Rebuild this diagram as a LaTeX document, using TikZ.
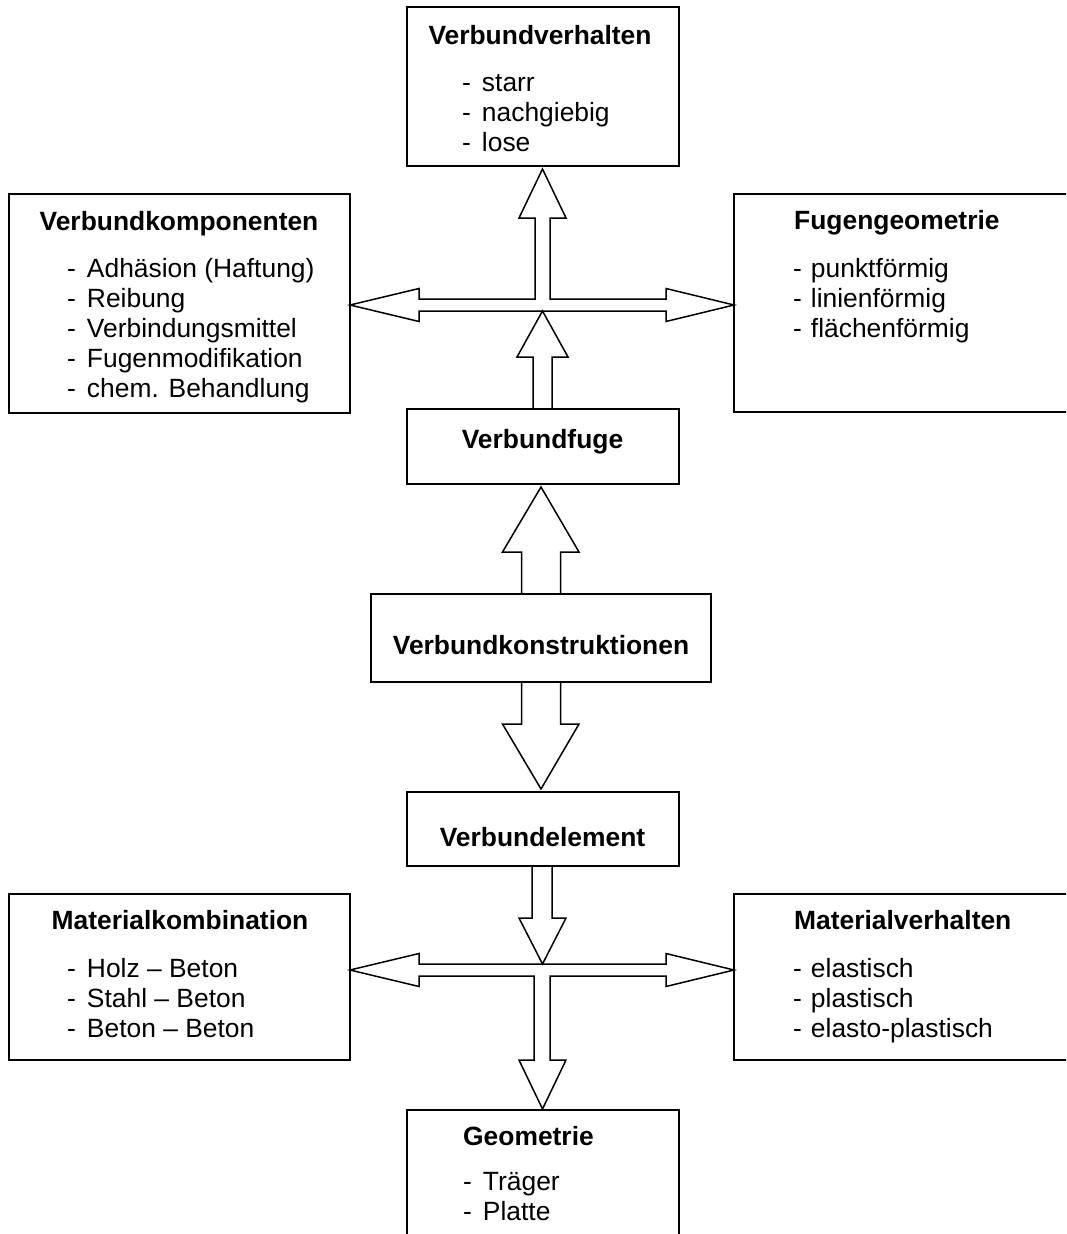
\documentclass[tikz,border=0pt]{standalone}
\usepackage{fontspec}
\setmainfont{Liberation Sans}
\usetikzlibrary{calc}
\begin{document}
\begin{tikzpicture}[x=1pt,y=-1pt,
  box/.style={draw, line width=2pt, inner sep=0pt, outer sep=0pt},
  blk/.style={draw, line width=1.5pt, line join=miter},
  ttl/.style={font=\fontsize{26.4}{30}\selectfont\bfseries, inner sep=0pt, anchor=base},
  ttlw/.style={ttl, anchor=base west},
  itm/.style={font=\fontsize{26.4}{30}\selectfont, inner sep=0pt, anchor=base west}]
\useasboundingbox (0,0) rectangle (1066,1234);
\clip (0,0) rectangle (1066,1234);

% boxes
\node[box, minimum width=272pt, minimum height=159pt] (vv) at (543,86.5) {};
\node[box, minimum width=341pt, minimum height=219pt] (vk) at (179.5,303.5) {};
\node[box, minimum width=356pt, minimum height=218pt] (fg) at (912,303) {};
\node[box, minimum width=272pt, minimum height=75pt] (fuge) at (543,446.5) {};
\node[box, minimum width=340pt, minimum height=88pt] (kon) at (541,638) {};
\node[box, minimum width=272pt, minimum height=74pt] (elem) at (543,829) {};
\node[box, minimum width=341pt, minimum height=166pt] (mk) at (179.5,977) {};
\node[box, minimum width=356pt, minimum height=166pt] (mv) at (912,977) {};
\node[box, minimum width=272pt, minimum height=150pt] (geo) at (543,1185) {};

\coordinate (X1) at (542.5,305);
\coordinate (X2) at (542.5,970);

% upper cross (up arrow + double horizontal arrow)
\draw[blk] (vk.east |- X1) -- ++(69,-16.5) -- ++(0,10.5) -- (535,299) -- (535,218) -- (519,218)
  -- ($(X1 |- vv.south)+(0,3)$) -- (566,218) -- (550,218) -- (550,299) -- (666,299) -- (666,288.5)
  -- (fg.west |- X1) -- (666,321.5) -- (666,311) -- (419,311) -- (419,321.5) -- cycle;
% up arrow from Verbundfuge
\draw[blk] ($(fuge.north)+(-10,0)$) -- ++(0,-52) -- ++(-16,0) -- ($(X1)+(0,6)$)
  -- ($(fuge.north)+(25,-52)$) -- ++(-16,0) -- ++(0,52);
% double arrow through Verbundkonstruktionen
\draw[blk] ($(kon.north)+(-19.5,0)$) -- ++(0,-42) -- ++(-19,0) -- ($(fuge.south)+(-2,3)$)
  -- ($(kon.north)+(38,-42)$) -- ++(-18.5,0) -- ++(0,42);
\draw[blk] ($(kon.south)+(-19.5,0)$) -- ++(0,42) -- ++(-19,0) -- ($(elem.north)+(-2,-3)$)
  -- ($(kon.south)+(38,42)$) -- ++(-18.5,0) -- ++(0,-42);
% down arrow from Verbundelement
\draw[blk] ($(elem.south)+(-11,0)$) -- ++(0,52) -- ++(-13,0) -- ($(X2)+(0,-6)$)
  -- ($(elem.south)+(23,52)$) -- ++(-14,0) -- ++(0,-52);
% lower cross (double horizontal arrow + down arrow)
\draw[blk] (mk.east |- X2) -- ++(69,-16.5) -- ++(0,10.5) -- (666,964) -- (666,953.5)
  -- (mv.west |- X2) -- (666,986.5) -- (666,976) -- (550,976) -- (550,1060) -- (566,1060)
  -- ($(geo.north)+(-0.5,-1)$) -- (519,1060) -- (534,1060) -- (534,976) -- (419,976) -- (419,986.5) -- cycle;

% texts
\node[ttl] (t1) at (540,44) {Verbundverhalten};
\node[itm] (t1a) at (462,91) {-\hspace{11pt}starr};
\node[itm] (t1b) at (462,121) {-\hspace{11pt}nachgiebig};
\node[itm] (t1c) at (462,151) {-\hspace{11pt}lose};

\node[ttl] (t2) at (179,230.5) {Verbundkomponenten};
\node[itm] (t2a) at (67,277) {-\hspace{11pt}Adhäsion (Haftung)};
\node[itm] (t2b) at (67,307) {-\hspace{11pt}Reibung};
\node[itm] (t2c) at (67,337) {-\hspace{11pt}Verbindungsmittel};
\node[itm] (t2d) at (67,367) {-\hspace{11pt}Fugenmodifikation};
\node[itm] (t2e) at (67,397) {-\hspace{11pt}chem. Behandlung};

\node[ttlw] (t3) at (794,229) {Fugengeometrie};
\node[itm] (t3a) at (793,277) {-\hspace{9pt}punktförmig};
\node[itm] (t3b) at (793,307) {-\hspace{9pt}linienförmig};
\node[itm] (t3c) at (793,337) {-\hspace{9pt}flächenförmig};

\node[ttl] (t4) at (542.5,448) {Verbundfuge};
\node[ttl] (t5) at (541,654) {Verbundkonstruktionen};
\node[ttl] (t6) at (542.5,846) {Verbundelement};

\node[ttl] (t7) at (180,929) {Materialkombination};
\node[itm] (t7a) at (67,977) {-\hspace{11pt}Holz – Beton};
\node[itm] (t7b) at (67,1007) {-\hspace{11pt}Stahl – Beton};
\node[itm] (t7c) at (67,1037) {-\hspace{11pt}Beton – Beton};

\node[ttlw] (t8) at (794,929) {Materialverhalten};
\node[itm] (t8a) at (793,977) {-\hspace{9pt}elastisch};
\node[itm] (t8b) at (793,1007) {-\hspace{9pt}plastisch};
\node[itm] (t8c) at (793,1037) {-\hspace{9pt}elasto-plastisch};

\node[ttlw] (t9) at (463,1145) {Geometrie};
\node[itm] (t9a) at (463,1190) {-\hspace{11pt}Träger};
\node[itm] (t9b) at (463,1220) {-\hspace{11pt}Platte};
\end{tikzpicture}
\end{document}
